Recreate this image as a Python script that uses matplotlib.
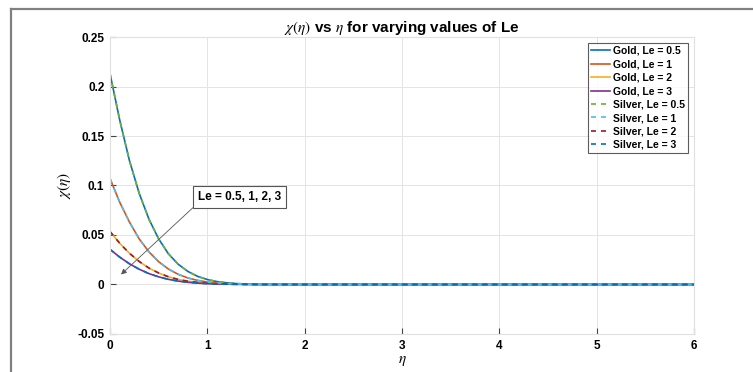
import matplotlib
matplotlib.use("Agg")
import matplotlib.pyplot as plt
from matplotlib.lines import Line2D

plt.rcParams['font.family'] = ['Liberation Sans', 'DejaVu Sans']
plt.rcParams['mathtext.fontset'] = 'stix'

# eta samples (profiles die out after ~1.6)
eta = [0.0, 0.1, 0.2, 0.3, 0.4, 0.5, 0.6, 0.7, 0.8, 0.9, 1.0,
       1.1, 1.2, 1.3, 1.4, 1.5, 1.6, 2.0, 3.0, 4.0, 5.0, 6.0]

gold_le05 = [0.213, 0.166, 0.125, 0.092, 0.066, 0.046, 0.031, 0.0205, 0.0132, 0.0082, 0.0050,
             0.0029, 0.0017, 0.0009, 0.0005, 0.0002, 0.0001, 0.0, 0.0, 0.0, 0.0, 0.0]
gold_le1 = [0.107, 0.083, 0.063, 0.046, 0.033, 0.023, 0.0156, 0.0103, 0.0066, 0.0041, 0.0025,
            0.0015, 0.0008, 0.0005, 0.0002, 0.0001, 0.0001, 0.0, 0.0, 0.0, 0.0, 0.0]
gold_le2 = [0.0535, 0.0416, 0.0315, 0.0232, 0.0166, 0.0116, 0.0078, 0.0051, 0.0033, 0.0021, 0.0013,
            0.0007, 0.0004, 0.0002, 0.0001, 0.0001, 0.0, 0.0, 0.0, 0.0, 0.0, 0.0]
gold_le3 = [0.0355, 0.0276, 0.0209, 0.0154, 0.0110, 0.0077, 0.0052, 0.0034, 0.0022, 0.0014, 0.0008,
            0.0005, 0.0003, 0.0002, 0.0001, 0.0, 0.0, 0.0, 0.0, 0.0, 0.0, 0.0]

# silver profiles sit on top of the gold ones
silver_le05 = list(gold_le05)
silver_le1 = list(gold_le1)
silver_le2 = list(gold_le2)
silver_le3 = list(gold_le3)

le_labels = ['0.5', '1', '2', '3']
gold = [gold_le05, gold_le1, gold_le2, gold_le3]
silver = [silver_le05, silver_le1, silver_le2, silver_le3]
gold_colors = ['#0072BD', '#D95319', '#EDB120', '#7E2F8E']
silver_colors = ['#77AC30', '#4DBEEE', '#A2142F', '#0072BD']

fig = plt.figure(figsize=(7.53, 3.72), dpi=100)
ax = fig.add_axes([0.1461, 0.1022, 0.7755, 0.7983])

for y, c, le in zip(gold, gold_colors, le_labels):
    ax.plot(eta, y, color=c, lw=1.2, label=f'Gold, Le = {le}')
for y, c, le in zip(silver, silver_colors, le_labels):
    ax.plot(eta, y, color=c, lw=1.2, ls=(0, (3, 3)), label=f'Silver, Le = {le}')

ax.set_xlim(0, 6)
ax.set_ylim(-0.05, 0.25)
ax.set_xticks([0, 1, 2, 3, 4, 5, 6])
ax.set_yticks([-0.05, 0, 0.05, 0.1, 0.15, 0.2, 0.25])
ax.set_yticklabels(['-0.05', '0', '0.05', '0.1', '0.15', '0.2', '0.25'])
ax.grid(True, color='#e4e4e4', lw=0.7)
ax.set_axisbelow(True)
for s in ax.spines.values():
    s.set_color('#e0e0e0')
    s.set_linewidth(0.8)
ax.tick_params(direction='in', length=4, width=0.8, color='#444444',
               labelsize=8.5, pad=4)
for lab in ax.get_xticklabels() + ax.get_yticklabels():
    lab.set_fontweight('bold')

ax.set_xlabel(r'$\eta$', fontsize=11, labelpad=2)
ax.set_ylabel(r'$\chi(\eta)$', fontsize=11, labelpad=3)
ax.set_title(r'$\chi(\eta)$ vs $\eta$ for varying values of Le',
             fontsize=11, fontweight='bold', pad=3)

leg = ax.legend(loc='upper right', prop={'weight': 'bold', 'size': 7.5},
                frameon=True, fancybox=False, edgecolor='#333333',
                handlelength=1.8, handletextpad=0.3, labelspacing=0.33,
                borderpad=0.3, borderaxespad=0.55)
leg.get_frame().set_linewidth(0.8)

ax.annotate('Le = 0.5, 1, 2, 3', xy=(0.113, 0.0101), xytext=(1.331, 0.0884),
            ha='center', va='center', fontsize=8.5, fontweight='bold',
            bbox=dict(boxstyle='square,pad=0.4', fc='white', ec='#555555', lw=0.8),
            arrowprops=dict(arrowstyle='-|>', color='#555555', lw=0.6,
                            relpos=(0, 0), mutation_scale=8, shrinkA=0, shrinkB=0))

# outer frame lines
fig.add_artist(Line2D([11 / 753, 11 / 753], [0, 1 - 9 / 372], transform=fig.transFigure,
                      color='#808080', lw=1.6))
fig.add_artist(Line2D([11 / 753, 1], [1 - 9 / 372, 1 - 9 / 372], transform=fig.transFigure,
                      color='#808080', lw=1.6))

fig.savefig('out.png', dpi=100)
